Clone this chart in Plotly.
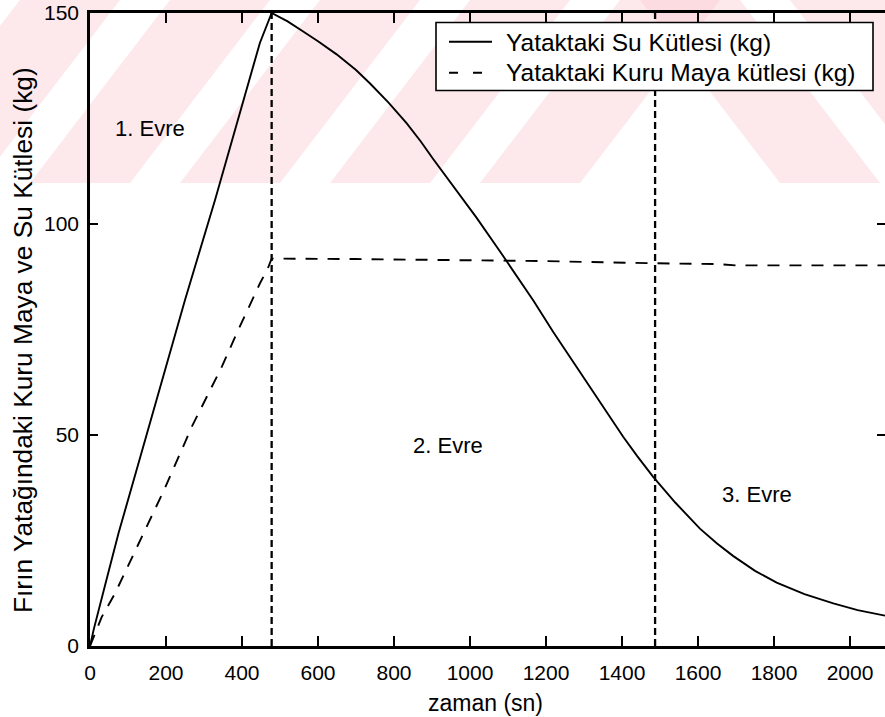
import plotly.graph_objects as go

# Water mass in the bed (kg) over time (s)
t_water = [0, 10, 40, 75, 140, 175, 250, 329, 400, 447, 478,
           520, 561, 600, 649, 700, 737, 785, 833, 870, 903, 956, 1017, 1079,
           1120, 1167, 1219, 1272, 1333, 1403, 1440, 1482, 1540, 1605, 1650,
           1693, 1750, 1807, 1880, 1956, 2020, 2092]
water = [0, 4, 14.5, 26.7, 47.2, 58.3, 82, 105.7, 128, 142.9, 150,
         148, 145.6, 143.3, 140.2, 136.5, 133.3, 128.8, 123.9, 119.6, 115.4, 109, 101.5, 93.5,
         88, 81.8, 74.4, 67.2, 59, 49.6, 45, 40.1, 34, 27.8, 24.3,
         21.3, 17.8, 15, 12.3, 10.1, 8.5, 7.2]

# Dry yeast mass in the bed (kg) over time (s)
t_dry = [0, 31, 66, 114, 162, 193, 241, 268, 307, 347, 386, 421, 447, 468,
         478, 700, 1000, 1200, 1487, 1650, 1700, 2092]
dry = [0, 6.9, 12.5, 21.6, 31, 36.6, 46.4, 52, 59, 66.2, 74.1, 80.8, 85.9, 89.5,
       91.8, 91.7, 91.5, 91.2, 90.7, 90.5, 90.2, 90.2]

# Phase boundaries (s) and phase labels
phase_bounds = [478, 1487]
phase_labels = ["1. Evre", "2. Evre", "3. Evre"]
phase_label_t = [158, 942, 1755]
phase_label_y = [122.7, 47.4, 35.8]

series_names = ["Yataktaki Su Kütlesi (kg)", "Yataktaki Kuru Maya kütlesi (kg)"]

x_ticks = [0, 200, 400, 600, 800, 1000, 1200, 1400, 1600, 1800, 2000]
y_ticks = [0, 50, 100, 150]

FONT = "Liberation Sans, Arial, sans-serif"
W, H = 885, 717
L, R, T, B = 90, 0, 13, 71
PW, PH = W - L - R, H - T - B


def px(x):
    return (x - L) / PW


def py(y):
    return (H - B - y) / PH


fig = go.Figure()

fig.add_trace(go.Scatter(
    x=t_water, y=water, mode="lines", name=series_names[0], showlegend=False,
    line=dict(color="black", width=1.9)))
fig.add_trace(go.Scatter(
    x=t_dry, y=dry, mode="lines", name=series_names[1], showlegend=False,
    line=dict(color="black", width=1.9, dash="12px,10px")))

for tb in phase_bounds:
    fig.add_trace(go.Scatter(
        x=[tb, tb], y=[0, 150], mode="lines", showlegend=False,
        line=dict(color="black", width=2.3, dash="7px,4px")))

# invisible trace carrying the right-hand tick marks
fig.add_trace(go.Scatter(x=[0], y=[0], yaxis="y2", mode="markers",
                         marker=dict(opacity=0), showlegend=False, hoverinfo="skip"))

shapes = []

# light diagonal background bands across the top strip
band_color = "rgba(250,205,212,0.45)"
for x0 in [-120, 30, 180, 330, 480]:
    pts = [(x0, 183), (x0 + 100, 183), (x0 + 100 + 140, 0), (x0 + 140, 0)]
    path = "M " + " L ".join(f"{px(a):.4f},{py(b):.4f}" for a, b in pts) + " Z"
    shapes.append(dict(type="path", path=path, xref="paper", yref="paper",
                       fillcolor=band_color, line=dict(width=0), layer="below"))
for x0 in [640, 790]:
    pts = [(x0, 0), (x0 + 100, 0), (x0 + 100 + 140, 183), (x0 + 140, 183)]
    path = "M " + " L ".join(f"{px(a):.4f},{py(b):.4f}" for a, b in pts) + " Z"
    shapes.append(dict(type="path", path=path, xref="paper", yref="paper",
                       fillcolor=band_color, line=dict(width=0), layer="below"))

# legend box with line samples
shapes.append(dict(type="rect", xref="paper", yref="paper",
                   x0=px(436), x1=px(873), y0=py(90.5), y1=py(22.5),
                   fillcolor="white", line=dict(color="black", width=1.6), layer="above"))
shapes.append(dict(type="line", xref="paper", yref="paper",
                   x0=px(449), x1=px(492), y0=py(41.7), y1=py(41.7),
                   line=dict(color="black", width=1.9), layer="above"))
shapes.append(dict(type="line", xref="paper", yref="paper",
                   x0=px(449), x1=px(482), y0=py(72.7), y1=py(72.7),
                   line=dict(color="black", width=1.9, dash="9px,15px"), layer="above"))

annotations = []
for name, yrow in zip(series_names, [42.5, 73.0]):
    annotations.append(dict(x=px(504), y=py(yrow), xref="paper", yref="paper",
                            xanchor="left", yanchor="middle", text=name,
                            showarrow=False, font=dict(size=24.5, color="black")))
for lab, tx, ty in zip(phase_labels, phase_label_t, phase_label_y):
    annotations.append(dict(x=tx, y=ty, xref="x", yref="y", text=lab,
                            xanchor="center", yanchor="middle",
                            showarrow=False, font=dict(size=22, color="black")))
annotations.append(dict(x=px(485), y=py(703), xref="paper", yref="paper",
                        xanchor="center", yanchor="middle",
                        text="zaman (sn)", showarrow=False,
                        font=dict(size=23, color="black")))
annotations.append(dict(x=px(23), y=py(340), xref="paper", yref="paper",
                        xanchor="center", yanchor="middle",
                        text="Fırın Yatağındaki Kuru Maya ve Su Kütlesi (kg)",
                        textangle=-90, showarrow=False,
                        font=dict(size=26.3, color="black")))

axis_common = dict(ticks="inside", tickcolor="black", showgrid=False,
                   zeroline=False, tickfont=dict(size=21, color="black"))

fig.update_layout(
    width=W, height=H,
    margin=dict(l=L, r=R, t=T, b=B),
    paper_bgcolor="white", plot_bgcolor="rgba(0,0,0,0)",
    font=dict(family=FONT, color="black"),
    showlegend=False,
    shapes=shapes,
    annotations=annotations,
    xaxis=dict(range=[0, 2092], tickvals=x_ticks, ticklen=10, tickwidth=2.2,
               showline=True, linewidth=2.5, linecolor="black", mirror="ticks",
               ticklabelstandoff=6, **axis_common),
    yaxis=dict(range=[0, 150], tickvals=y_ticks, ticklen=8, tickwidth=2.2,
               showline=True, linewidth=2.5, linecolor="black", mirror=False,
               ticklabelstandoff=4, **axis_common),
    yaxis2=dict(range=[0, 150], tickvals=y_ticks, ticklen=8, tickwidth=2.2,
                overlaying="y", side="right", showline=False,
                showticklabels=False, **axis_common),
)

fig.write_html("out.html")
